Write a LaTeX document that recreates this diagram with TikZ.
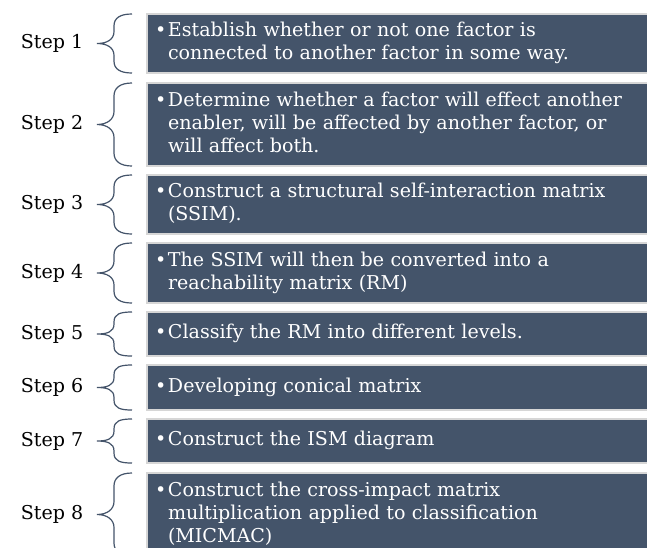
\documentclass[tikz,border=0pt]{standalone}
\usepackage{fontspec}
\setmainfont{DejaVu Serif}
\usetikzlibrary{positioning,calc}
\definecolor{slate}{HTML}{44546A}
\definecolor{rim}{HTML}{D6D6D6}

\tikzset{
  stepbox/.style={fill=slate, draw=rim, line width=1.1pt, text=white, outer sep=0pt,
    text width=365pt, inner xsep=6pt, align=left, anchor=north west},
  bracestyle/.style={draw=slate, line width=0.9pt}
}

% bullet with the lines hanging after it
\newcommand\steptext[1]{\makebox[9.75pt][l]{\textbullet}\begin{tabular}[t]{@{}l@{}}#1\end{tabular}}

% left brace in front of box #1, curl size #2
\newcommand\stepbrace[2]{
  \draw[bracestyle] ($(#1.north west)+(-15,0)$)
    .. controls +(-12,0) and +(0,-8) .. ($(#1.north west)+(-33,#2)$)
    -- ($(#1.west)+(-33,-#2)$)
    .. controls +(0,8) and +(10,0) .. ($(#1.west)+(-50,0)$)
    .. controls +(10,0) and +(0,-8) .. ($(#1.west)+(-33,#2)$)
    -- ($(#1.south west)+(-33,-#2)$)
    .. controls +(0,8) and +(-12,0) .. ($(#1.south west)+(-15,0)$);
}

\begin{document}
\begin{tikzpicture}[x=0.75pt, y=-0.75pt, font=\fontsize{14.3}{17.25}\selectfont]
  \clip (0,0) rectangle (647,547);
  \fill[white] (0,0) rectangle (647,547);

  \node[stepbox, minimum height=44.25pt] (b1) at (147,14)
    {\steptext{Establish whether or not one factor is\\ connected to another factor in some way.}};
  \node[stepbox, minimum height=62.25pt, below=7.5pt of b1] (b2)
    {\steptext{Determine whether a factor will effect another\\ enabler, will be affected by another factor, or\\ will affect both.}};
  \node[stepbox, minimum height=44.25pt, below=6.75pt of b2] (b3)
    {\steptext{Construct a structural self-interaction matrix\\ (SSIM).}};
  \node[stepbox, minimum height=45pt, below=6.75pt of b3] (b4)
    {\steptext{The SSIM will then be converted into a\\ reachability matrix (RM)}};
  \node[stepbox, minimum height=33pt, below=6.75pt of b4] (b5)
    {\steptext{Classify the RM into different levels.}};
  \node[stepbox, minimum height=33.75pt, below=6.75pt of b5] (b6)
    {\steptext{Developing conical matrix}};
  \node[stepbox, minimum height=33pt, below=6.75pt of b6] (b7)
    {\steptext{Construct the ISM diagram}};
  \node[stepbox, minimum height=62.25pt, below=7.5pt of b7] (b8)
    {\steptext{Construct the cross-impact matrix\\ multiplication applied to classification\\ (MICMAC)}};

  \foreach \i/\r in {1/12,2/13,3/12,4/12,5/10,6/10,7/10,8/13} {
    \node (s\i) at ($(b\i.west)+(-95,0)$) {Step \i};
    \stepbrace{b\i}{\r}
  }
\end{tikzpicture}
\end{document}
